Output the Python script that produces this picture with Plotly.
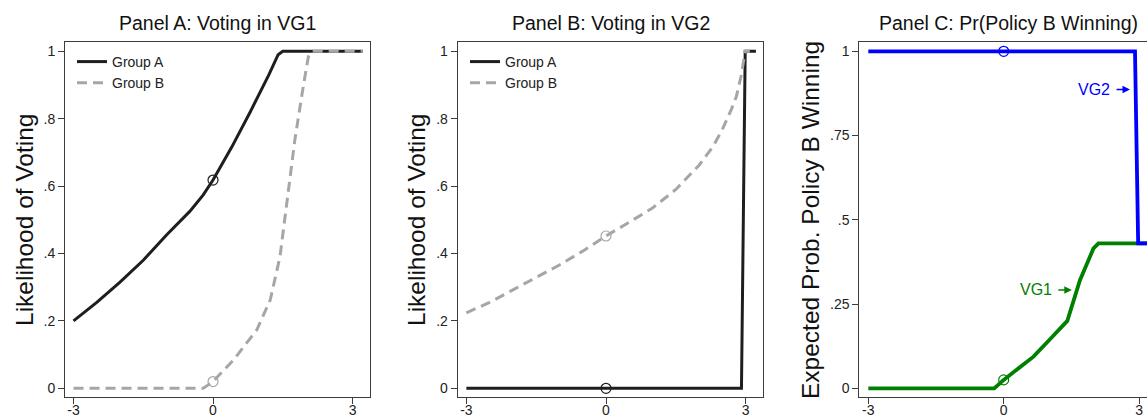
import plotly.graph_objects as go

# ---- Panel A: likelihood of voting in VG1 ----
a_grpA_x = [-3, -2.5, -2, -1.5, -1, -0.5, -0.21, 0, 0.4, 0.8, 1.2, 1.4, 1.5, 3.22]
a_grpA_y = [0.2, 0.255, 0.315, 0.38, 0.455, 0.525, 0.574, 0.618, 0.715, 0.82, 0.93, 0.99, 1.0, 1.0]
a_grpB_x = [-3, -0.21, 0, 0.44, 0.94, 1.23, 1.44, 1.6, 1.76, 1.94, 2.05, 2.12, 3.22]
a_grpB_y = [0, 0, 0.02, 0.084, 0.173, 0.262, 0.39, 0.559, 0.737, 0.895, 0.984, 1.0, 1.0]

# ---- Panel B: likelihood of voting in VG2 ----
b_grpA_x = [-3, 0, 2.91, 2.99, 3.22]
b_grpA_y = [0, 0, 0, 1.0, 1.0]
b_grpB_x = [-3, -2.5, -2, -1.5, -1, -0.5, 0, 0.5, 1, 1.5, 2, 2.3, 2.5, 2.7, 2.8, 2.9, 2.99, 3.09]
b_grpB_y = [0.224, 0.255, 0.292, 0.328, 0.366, 0.407, 0.452, 0.493, 0.535, 0.59, 0.662,
            0.718, 0.768, 0.83, 0.866, 0.925, 1.0, 1.0]

# ---- Panel C: expected probability that policy B wins ----
c_vg2_x = [-3, 0, 2.91, 2.98, 3.22]
c_vg2_y = [1.0, 1.0, 1.0, 0.43, 0.43]
c_vg1_x = [-3, -0.21, 0, 0.66, 1.0, 1.41, 1.69, 1.99, 2.1, 3.22]
c_vg1_y = [0, 0, 0.025, 0.094, 0.142, 0.2, 0.321, 0.415, 0.43, 0.43]

x_ticks = [-3, 0, 3]
x_tick_text = ["-3", "0", "3"]
vote_ticks = [0, 0.2, 0.4, 0.6, 0.8, 1]
vote_tick_text = ["0", ".2", ".4", ".6", ".8", "1"]
prob_ticks = [0, 0.25, 0.5, 0.75, 1]
prob_tick_text = ["0", ".25", ".5", ".75", "1"]

BLACK = "#1e1e1e"
GRAY = "#a6a6a6"
BLUE = "#0000ff"
GREEN = "#008000"
FONT = "Arial, Liberation Sans, sans-serif"
W, H = 1147, 416


def at_zero(xs, ys):
    return ys[xs.index(0)]


fig = go.Figure()


def add_line(xs, ys, color, width, dash, name, xa, ya, legend=None, showlegend=False):
    fig.add_trace(go.Scatter(
        x=xs, y=ys, mode="lines", name=name,
        line=dict(color=color, width=width, dash=dash),
        xaxis=xa, yaxis=ya, showlegend=showlegend,
        legend=legend if legend else "legend",
    ))


def add_marker(xs, ys, color, xa, ya):
    fig.add_trace(go.Scatter(
        x=[0], y=[at_zero(xs, ys)], mode="markers",
        marker=dict(symbol="circle-open", size=10, color=color, line=dict(width=1.2, color=color)),
        xaxis=xa, yaxis=ya, showlegend=False,
    ))


# Panel A
add_line(a_grpA_x, a_grpA_y, BLACK, 3, "solid", "Group A", "x", "y", "legend", True)
add_line(a_grpB_x, a_grpB_y, GRAY, 3, "10px,6px", "Group B", "x", "y", "legend", True)
add_marker(a_grpA_x, a_grpA_y, BLACK, "x", "y")
add_marker(a_grpB_x, a_grpB_y, GRAY, "x", "y")

# Panel B
add_line(b_grpA_x, b_grpA_y, BLACK, 3, "solid", "Group A", "x2", "y2", "legend2", True)
add_line(b_grpB_x, b_grpB_y, GRAY, 3, "10px,6px", "Group B", "x2", "y2", "legend2", True)
add_marker(b_grpA_x, b_grpA_y, BLACK, "x2", "y2")
add_marker(b_grpB_x, b_grpB_y, GRAY, "x2", "y2")

# Panel C
add_line(c_vg1_x, c_vg1_y, GREEN, 3.8, "solid", "VG1", "x3", "y3")
add_line(c_vg2_x, c_vg2_y, BLUE, 3.8, "solid", "VG2", "x3", "y3")
add_marker(c_vg2_x, c_vg2_y, BLUE, "x3", "y3")
add_marker(c_vg1_x, c_vg1_y, GREEN, "x3", "y3")

y_dom = [(H - 396.7) / H, (H - 42.3) / H]
frame = "#3c3c3c"


def xaxis(dom, rng):
    return dict(domain=dom, range=rng, tickvals=x_ticks, ticktext=x_tick_text,
                ticks="outside", ticklen=6, tickwidth=1, tickcolor=frame,
                showline=True, linecolor=frame, linewidth=1, mirror=True,
                showgrid=False, zeroline=False, automargin=False,
                ticklabelstandoff=-6,
                tickfont=dict(size=14, color="#222", family=FONT))


def yaxis(anchor, rng, tv, tt, mirror=True):
    return dict(domain=y_dom, range=rng, anchor=anchor, tickvals=tv, ticktext=tt,
                ticks="outside", ticklen=6, tickwidth=1, tickcolor=frame,
                showline=True, linecolor=frame, linewidth=1, mirror=mirror,
                showgrid=False, zeroline=False, automargin=False,
                tickfont=dict(size=14, color="#222", family=FONT))


fig.update_layout(
    width=W, height=H,
    margin=dict(l=0, r=0, t=0, b=0, pad=0, autoexpand=False),
    paper_bgcolor="white", plot_bgcolor="white",
    font=dict(family=FONT, color="#222"),
    xaxis=xaxis([65 / W, 370 / W], [-3.183, 3.376]),
    yaxis=yaxis("x", [-0.0249, 1.0267], vote_ticks, vote_tick_text),
    xaxis2=xaxis([457.7 / W, 763.3 / W], [-3.186, 3.379]),
    yaxis2=yaxis("x2", [-0.0249, 1.0267], vote_ticks, vote_tick_text),
    xaxis3=xaxis([859.3 / W, 1.0], [-3.2, 3.176]),
    yaxis3=yaxis("x3", [-0.0249, 1.0267], prob_ticks, prob_tick_text, mirror=False),
    legend=dict(x=72 / W, y=(H - 46) / H, xanchor="left", yanchor="top",
                bgcolor="rgba(0,0,0,0)", font=dict(size=14, color="#222", family=FONT),
                itemwidth=30, tracegroupgap=0),
    legend2=dict(x=465 / W, y=(H - 46) / H, xanchor="left", yanchor="top",
                 bgcolor="rgba(0,0,0,0)", font=dict(size=14, color="#222", family=FONT),
                 itemwidth=30, tracegroupgap=0),
)

annotations = []
titles = [("Panel A: Voting in VG1", 217.5), ("Panel B: Voting in VG2", 610.5),
          ("Panel C: Pr(Policy B Winning)", 1008)]
for text, cx in titles:
    annotations.append(dict(text=text, x=cx / W, y=(H - 23) / H, xref="paper", yref="paper",
                            xanchor="center", yanchor="middle", showarrow=False,
                            font=dict(size=19.5, color="#111", family=FONT)))

ylabels = [("Likelihood of Voting", 24), ("Likelihood of Voting", 416),
           ("Expected Prob. Policy B Winning", 810)]
for text, cx in ylabels:
    annotations.append(dict(text=text, x=cx / W, y=(H - 220) / H, xref="paper", yref="paper",
                            xanchor="center", yanchor="middle", showarrow=False, textangle=-90,
                            font=dict(size=24.5, color="#111", family=FONT)))

annotations.append(dict(text="VG2", x=2.80, y=0.887, xref="x3", yref="y3",
                        ax=-36, ay=0, showarrow=True, arrowhead=2, arrowsize=1,
                        arrowwidth=1.5, arrowcolor=BLUE, startstandoff=5,
                        font=dict(size=16, color=BLUE, family=FONT)))
annotations.append(dict(text="VG1", x=1.51, y=0.292, xref="x3", yref="y3",
                        ax=-36, ay=0, showarrow=True, arrowhead=2, arrowsize=1,
                        arrowwidth=1.5, arrowcolor=GREEN, startstandoff=5,
                        font=dict(size=16, color=GREEN, family=FONT)))

fig.update_layout(annotations=annotations)

fig.write_html("out.html")
